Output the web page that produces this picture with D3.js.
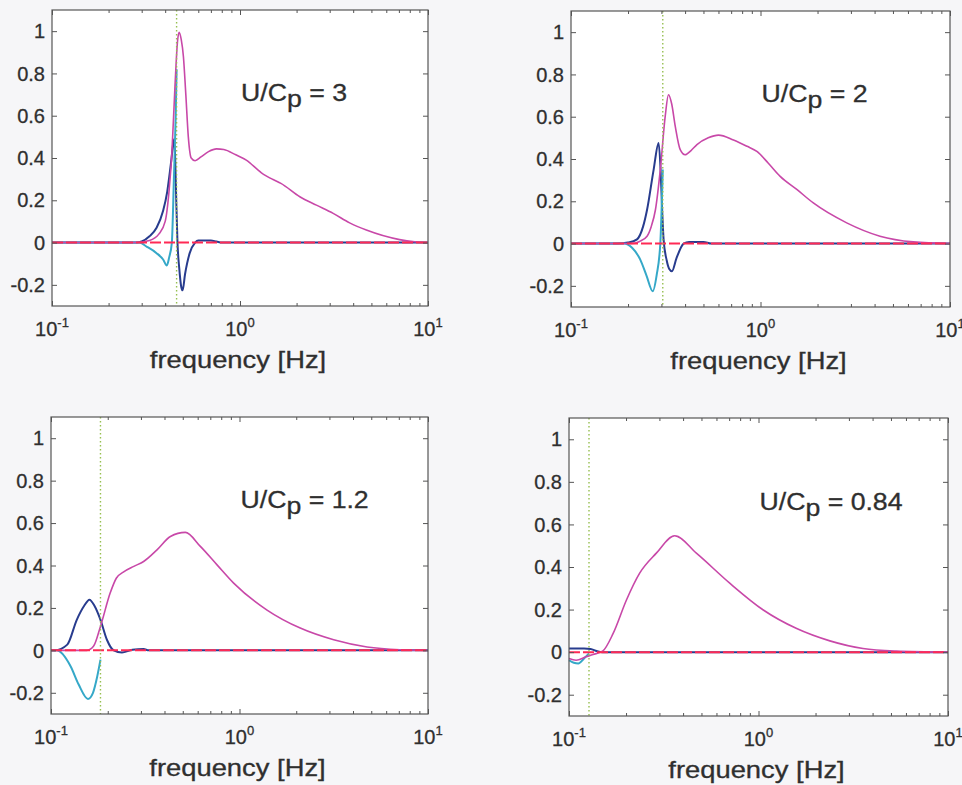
<!DOCTYPE html>
<html><head><meta charset="utf-8">
<script src="https://cdn.jsdelivr.net/npm/d3@7"></script>
<style>
html,body{margin:0;padding:0;background:#f6f6f8;}
svg{display:block;}
text{font-family:"Liberation Sans",Arial,Helvetica,sans-serif;fill:#2f2f2f;stroke:#2f2f2f;stroke-width:0.3px;}
</style></head>
<body>
<svg id="chart" width="962" height="785"></svg>
<script>
// ---------------- data ----------------
const xTickValues = [0.1, 1, 10];
const xTickExps = ["-1", "0", "1"];
const xMinorTicks = [0.2,0.3,0.4,0.5,0.6,0.7,0.8,0.9,2,3,4,5,6,7,8,9];
const yTickValues = [-0.2, 0, 0.2, 0.4, 0.6, 0.8, 1];
const yTickLabels = ["-0.2", "0", "0.2", "0.4", "0.6", "0.8", "1"];
const xLabel = "frequency [Hz]";
const ratioValues = ["3", "2", "1.2", "0.84"];
const peakFreqs = [0.46, 0.305, 0.183, 0.1275];

// panel 1 : U/Cp = 3
const p1Magenta = [[0.1,0],[0.28,0],[0.33,0.01],[0.37,0.04],[0.40,0.1],[0.42,0.25],[0.434,0.42],[0.451,0.74],[0.465,0.95],[0.474,0.995],[0.487,0.96],[0.50,0.88],[0.515,0.7],[0.531,0.5],[0.55,0.40],[0.577,0.387],[0.62,0.405],[0.68,0.43],[0.75,0.443],[0.82,0.44],[0.95,0.415],[1.08,0.39],[1.3,0.33],[1.5,0.298],[1.65,0.28],[2.08,0.217],[2.55,0.177],[3.13,0.138],[3.83,0.093],[4.7,0.059],[7.06,0.014],[8.5,0.004],[10,0]];
const p1Blue = [[0.1,0],[0.28,0],[0.30,0.005],[0.33,0.03],[0.36,0.07],[0.39,0.15],[0.41,0.24],[0.43,0.38],[0.446,0.49],[0.452,0.4],[0.458,0.2],[0.465,0],[0.475,-0.12],[0.487,-0.21],[0.495,-0.226],[0.51,-0.15],[0.54,-0.05],[0.577,0],[0.6,0.01],[0.7,0.01],[0.75,0.005],[0.8,0],[10,0]];
const p1Cyan = [[0.1,0],[0.29,0],[0.32,-0.02],[0.36,-0.05],[0.39,-0.08],[0.408,-0.108],[0.42,-0.07],[0.434,0.0],[0.445,0.3],[0.455,0.6],[0.46,0.82]];

// panel 2 : U/Cp = 2
const p2Magenta = [[0.1,0],[0.21,0],[0.23,0.01],[0.252,0.035],[0.265,0.08],[0.279,0.16],[0.296,0.35],[0.314,0.60],[0.327,0.704],[0.34,0.66],[0.355,0.554],[0.377,0.444],[0.40,0.42],[0.43,0.44],[0.462,0.468],[0.53,0.5],[0.6,0.513],[0.72,0.49],[0.85,0.46],[0.957,0.436],[1.1,0.38],[1.27,0.318],[1.56,0.255],[1.9,0.192],[2.85,0.098],[4.27,0.035],[6.4,0.008],[10,0]];
const p2Blue = [[0.1,0],[0.175,0],[0.2,0.005],[0.223,0.02],[0.24,0.08],[0.252,0.16],[0.273,0.35],[0.29,0.476],[0.297,0.35],[0.303,0.15],[0.308,0.02],[0.32,-0.08],[0.33,-0.12],[0.341,-0.131],[0.36,-0.07],[0.393,0],[0.42,0.008],[0.5,0.008],[0.55,0],[10,0]];
const p2Cyan = [[0.1,0],[0.19,0],[0.21,-0.02],[0.232,-0.076],[0.25,-0.15],[0.27,-0.225],[0.283,-0.15],[0.296,0],[0.305,0.35]];

// panel 3 : U/Cp = 1.2
const p3Magenta = [[0.1,0],[0.155,0],[0.168,0.019],[0.183,0.113],[0.206,0.27],[0.222,0.34],[0.243,0.37],[0.275,0.396],[0.31,0.419],[0.365,0.474],[0.43,0.537],[0.516,0.556],[0.62,0.49],[0.76,0.403],[0.931,0.317],[1.4,0.19],[2.1,0.105],[3.16,0.05],[4.75,0.016],[7.1,0.003],[10,0]];
const p3Blue = [[0.1,0],[0.105,0],[0.122,0.027],[0.137,0.144],[0.15,0.21],[0.16,0.239],[0.17,0.21],[0.183,0.144],[0.198,0.05],[0.215,0],[0.238,-0.01],[0.27,0.003],[0.31,0.006],[0.33,0],[10,0]];
const p3Cyan = [[0.1,0],[0.107,0],[0.127,-0.075],[0.14,-0.16],[0.157,-0.229],[0.167,-0.2],[0.176,-0.122],[0.183,-0.044]];

// panel 4 : U/Cp = 0.84
const p4Magenta = [[0.1,-0.03],[0.109,-0.038],[0.123,-0.022],[0.134,-0.011],[0.151,0.006],[0.171,0.088],[0.201,0.245],[0.236,0.371],[0.289,0.465],[0.361,0.547],[0.47,0.465],[0.705,0.324],[1.06,0.198],[1.58,0.112],[2.38,0.053],[3.56,0.017],[5.34,0.005],[10,0]];
const p4Blue = [[0.1,0.017],[0.12,0.017],[0.13,0.015],[0.14,0.005],[0.15,0],[10,0]];
const p4Cyan = [[0.1,-0.038],[0.106,-0.05],[0.112,-0.053],[0.12,-0.03],[0.1275,-0.006]];

const zeroLine = [[0.1,0],[10,0]];

// ---------------- layout ----------------
const boxes = [
  {l:52, r:428, t:10, b:306},
  {l:571, r:950, t:11, b:307},
  {l:51, r:428, t:417, b:714},
  {l:569, r:948, t:418, b:716}
];
const series = [
  [p1Blue,p1Cyan,p1Magenta],
  [p2Blue,p2Cyan,p2Magenta],
  [p3Blue,p3Cyan,p3Magenta],
  [p4Blue,p4Cyan,p4Magenta]
];
const colors = {blue:"#283c8e", cyan:"#35a8c8", magenta:"#c848a8", red:"#ff2a55", dot:"#96bf50", axis:"#555"};

const svg = d3.select("#chart");

boxes.forEach((bx, i) => {
  const x = d3.scaleLog().domain([0.1, 10]).range([bx.l, bx.r]);
  const y = d3.scaleLinear().domain([-0.3, 1.1]).range([bx.b, bx.t]);
  const g = svg.append("g");

  g.append("rect").attr("x", bx.l).attr("y", bx.t)
    .attr("width", bx.r - bx.l).attr("height", bx.b - bx.t)
    .attr("fill", "#ffffff");

  const line = d3.line().x(d => x(d[0])).y(d => y(d[1])).curve(d3.curveMonotoneX);
  const [sb, sc, sm] = series[i];

  g.append("path").datum(sb).attr("d", line).attr("fill","none")
    .attr("stroke", colors.blue).attr("stroke-width", 2);
  g.append("path").datum(sc).attr("d", line).attr("fill","none")
    .attr("stroke", colors.cyan).attr("stroke-width", 2);
  g.append("path").datum(sm).attr("d", line).attr("fill","none")
    .attr("stroke", colors.magenta).attr("stroke-width", 1.6);

  g.append("path").datum(zeroLine).attr("d", d3.line().x(d => x(d[0])).y(d => y(d[1])))
    .attr("fill","none").attr("stroke", colors.red).attr("stroke-width", 2)
    .attr("stroke-dasharray", "11,3");

  // peak frequency dotted line
  g.append("line").attr("x1", x(peakFreqs[i])).attr("x2", x(peakFreqs[i]))
    .attr("y1", bx.t).attr("y2", bx.b)
    .attr("stroke", colors.dot).attr("stroke-width", 1.4).attr("stroke-dasharray", "1.5,2.5");

  // frame
  g.append("rect").attr("x", bx.l).attr("y", bx.t)
    .attr("width", bx.r - bx.l).attr("height", bx.b - bx.t)
    .attr("fill", "none").attr("stroke", colors.axis).attr("stroke-width", 1.2);

  // axes with inward ticks (MATLAB style)
  const axB = d3.axisBottom(x).tickValues(xTickValues).tickSizeInner(-5).tickSizeOuter(0).tickFormat("");
  const axBm = d3.axisBottom(x).tickValues(xMinorTicks).tickSizeInner(-3).tickSizeOuter(0).tickFormat("");
  const axT = d3.axisTop(x).tickValues(xTickValues).tickSizeInner(-5).tickSizeOuter(0).tickFormat("");
  const axTm = d3.axisTop(x).tickValues(xMinorTicks).tickSizeInner(-3).tickSizeOuter(0).tickFormat("");
  const axL = d3.axisLeft(y).tickValues(yTickValues).tickSizeInner(-5).tickSizeOuter(0).tickFormat("");
  const axR = d3.axisRight(y).tickValues(yTickValues).tickSizeInner(-5).tickSizeOuter(0).tickFormat("");
  [[axB, `translate(0,${bx.b})`],[axBm, `translate(0,${bx.b})`],[axT, `translate(0,${bx.t})`],[axTm, `translate(0,${bx.t})`],
   [axL, `translate(${bx.l},0)`],[axR, `translate(${bx.r},0)`]].forEach(([ax, tr]) => {
    const a = g.append("g").attr("transform", tr).call(ax);
    a.select(".domain").remove();
    a.selectAll("line").attr("stroke", colors.axis).attr("stroke-width", 1);
  });

  // y tick labels
  g.selectAll(".ylab").data(yTickValues).enter().append("text")
    .attr("x", bx.l - 7).attr("y", d => y(d)).attr("dy", "0.36em")
    .attr("text-anchor", "end").attr("font-size", 20)
    .text((d, k) => yTickLabels[k]);

  // x tick labels (10^n)
  xTickValues.forEach((v, k) => {
    const t = g.append("text").attr("x", x(v)).attr("y", bx.b + 30)
      .attr("text-anchor", "middle").attr("font-size", 20);
    t.append("tspan").text("10");
    t.append("tspan").attr("font-size", 13).attr("dy", -9).text(xTickExps[k]);
  });

  // x axis label
  g.append("text")
    .attr("transform", `translate(${(bx.l + bx.r) / 2 - 2},${bx.b + 62}) scale(1.19,1)`)
    .attr("text-anchor", "middle").attr("font-size", 23)
    .text(xLabel);

  // annotation U/Cp = ...
  const ann = g.append("text")
    .attr("transform", `translate(${x(1) + 1},${y(0.67)}) scale(1.16,1)`)
    .attr("font-size", 23);
  ann.append("tspan").text("U/C");
  ann.append("tspan").attr("dy", 6).text("p");
  ann.append("tspan").attr("dy", -6).text(" = " + ratioValues[i]);
});
</script>
</body></html>
